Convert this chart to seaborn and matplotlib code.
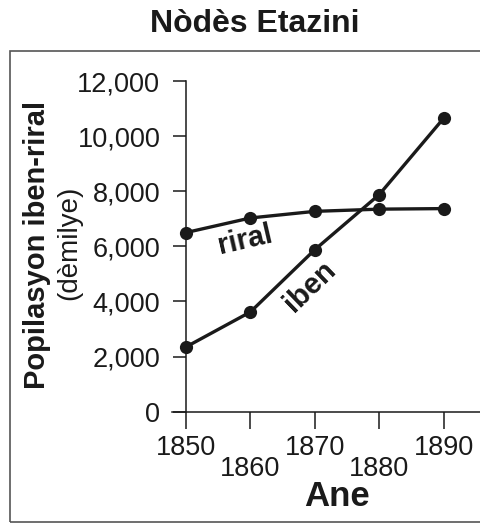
import numpy as np
import pandas as pd
import matplotlib
matplotlib.use("Agg")
import matplotlib.pyplot as plt
import seaborn as sns
from matplotlib.patches import Rectangle

# data (thousands)
years = [1850, 1860, 1870, 1880, 1890]
riral = [6500, 7030, 7270, 7350, 7370]
iben = [2350, 3620, 5880, 7880, 10650]
yticks = [0, 2000, 4000, 6000, 8000, 10000, 12000]

sns.set_style("ticks")
plt.rcParams['font.family'] = ['Liberation Sans', 'DejaVu Sans']

df = pd.DataFrame({
    "Ane": years * 2,
    "pop": riral + iben,
    "seri": ["riral"] * len(years) + ["iben"] * len(years),
})

W, H = 481, 525
ink = "#1a1a1a"
fig = plt.figure(figsize=(W / 100, H / 100), dpi=100)

# axes placed so 1850 sits at x=186px and 0..12000 spans 411.7..81px
left_px, right_px = 172, 481
top_px, bot_px = 81, 411.7
ax = fig.add_axes([left_px / W, 1 - bot_px / H, (right_px - left_px) / W, (bot_px - top_px) / H])

sns.lineplot(data=df, x="Ane", y="pop", units="seri", estimator=None,
             color=ink, linewidth=2.4, marker="o", markersize=9.5,
             markeredgewidth=0, ax=ax, legend=False)

px_per_year = (443.7 - 186) / 40
ax.set_xlim(1850 - (186 - left_px) / px_per_year, 1890 + (right_px - 443.7) / px_per_year)
ax.set_ylim(0, 12000)

ax.spines['left'].set_position(('data', 1850))
ax.spines['top'].set_visible(False)
ax.spines['right'].set_visible(False)
for s in ['left', 'bottom']:
    ax.spines[s].set_linewidth(1.1)
    ax.spines[s].set_color(ink)

ax.set_yticks(yticks)
ax.set_yticklabels([f"{v:,}" for v in yticks])
ax.set_xticks([1850, 1870, 1890])
ax.set_xticks([1860, 1880], minor=True)
ax.set_xticklabels(["1850", "1870", "1890"])
ax.set_xticklabels(["1860", "1880"], minor=True)
ax.tick_params(axis='y', direction='out', length=9.5, width=1.1, pad=9, labelsize=19.5, colors=ink)
ax.tick_params(axis='x', which='major', direction='out', length=12, width=1.1, pad=5, labelsize=19.5, colors=ink)
ax.tick_params(axis='x', which='minor', direction='out', length=12, width=1.1, pad=20, labelsize=19.5, colors=ink)
ax.set_xlabel("")
ax.set_ylabel("")

# line labels
ax.text(1859.2, 6232, "riral", fontsize=21, fontweight='bold', rotation=13,
        ha='center', va='center', rotation_mode='anchor', color=ink)
ax.text(1869.3, 4527, "iben", fontsize=21, fontweight='bold', rotation=44,
        ha='center', va='center', rotation_mode='anchor', color=ink)

# axis labels and title
fig.text(37 / W, 1 - 245 / H, "Popilasyon iben-riral", rotation=90, fontsize=21,
         fontweight='bold', ha='center', va='center', color=ink)
fig.text(69 / W, 1 - 243 / H, "(dèmilye)", rotation=90, fontsize=20,
         ha='center', va='center', color=ink)
fig.text(337 / W, 1 - 496 / H, "Ane", fontsize=25, fontweight='bold',
         ha='center', va='center', color=ink)
fig.text(255 / W, 1 - 24 / H, "Nòdès Etazini", fontsize=23, fontweight='bold',
         ha='center', va='center', color=ink)

# border box
fig.patches.append(Rectangle((10 / W, 1 - 522 / H), (W + 5) / W, (522 - 51) / H,
                             transform=fig.transFigure, fill=False,
                             edgecolor="#555555", linewidth=1.2))

fig.savefig("out.png", dpi=100)
